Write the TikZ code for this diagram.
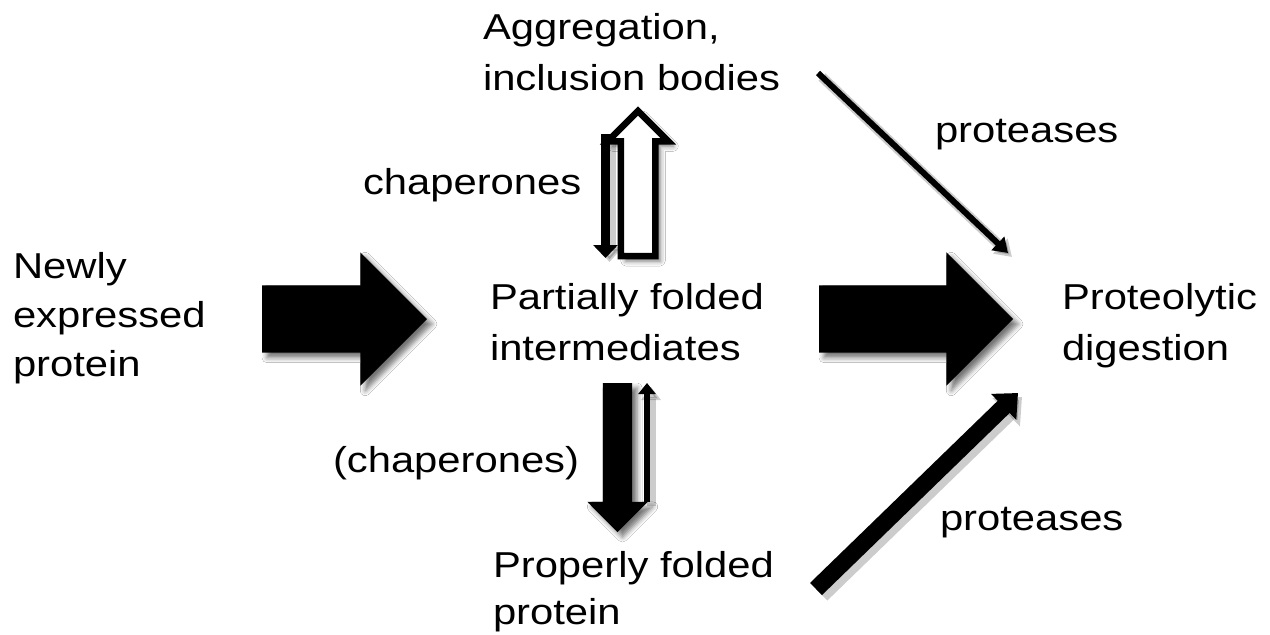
\documentclass[tikz,border=0pt]{standalone}
\usepackage{fontspec}
\setmainfont{Liberation Sans}
\usetikzlibrary{shapes.arrows,shadows.blur,arrows.meta}

% multi-line label: 36pt type, slightly widened, given line spacing
\newcommand\labeltext[2]{\scalebox{1.16}[1]{\fontsize{36pt}{#1pt}\selectfont\begin{tabular}[t]{@{}l@{}}#2\end{tabular}}}
% invisible strut that fixes the shaft thickness of a block arrow
\newcommand\shaft[1]{\rule{0pt}{#1}}

\begin{document}
\begin{tikzpicture}[x=1pt,y=-1pt,
  lbl/.style={inner sep=0pt, outer sep=0pt, anchor=base west},
  soft shadow/.style={blur shadow={shadow xshift=5pt, shadow yshift=-5pt,
      shadow blur radius=5pt, shadow opacity=55}},
  fat/.style={single arrow, fill=black, draw=none, inner sep=0pt, outer sep=0pt,
      anchor=tail, single arrow head extend=#1},
  thinarrow/.style n args={3}{line width=#1, -{Triangle[width=#2, length=#3]}},
  halo/.style={draw=black, opacity=0.2, transform canvas={shift={(4pt,-4pt)}}},
]
\fill[white] (0,0) rectangle (1270,635);
\useasboundingbox (0,0) rectangle (1270,635);

% ---- labels ----
\node[lbl] (newly)   at (13,278)   {\labeltext{49}{Newly\\expressed\\protein}};
\node[lbl] (aggr)    at (483,39)   {\labeltext{51}{Aggregation,\\inclusion bodies}};
\node[lbl] (chap1)   at (363,194)  {\labeltext{40}{chaperones}};
\node[lbl] (partial) at (490,309)  {\labeltext{51}{Partially folded\\intermediates}};
\node[lbl] (proteo)  at (1062,309) {\labeltext{51}{Proteolytic\\digestion}};
\node[lbl] (chap2)   at (333,472)  {\labeltext{40}{(chaperones)}};
\node[lbl] (proper)  at (493,577)  {\labeltext{47}{Properly folded\\protein}};
\node[lbl] (prot1)   at (935,142)  {\labeltext{40}{proteases}};
\node[lbl] (prot2)   at (940,530)  {\labeltext{40}{proteases}};

% ---- block arrows ----
\node[fat=33pt, minimum height=165pt, soft shadow] (arrL) at (262,319) {\shaft{67pt}};
\node[fat=33pt, minimum height=194pt, soft shadow] (arrR) at (819,319) {\shaft{67pt}};
\node[fat=13pt, fill=white, draw=black, line width=6.5pt,
      minimum height=145pt, rotate=90, soft shadow] (arrUp) at (638,256) {\shaft{28pt}};
\node[fat=15.5pt, minimum height=149pt, rotate=-90,
      soft shadow] (arrDown) at (617.5,383) {\shaft{29pt}};

% ---- thin arrows ----
\coordinate (dnS) at (605.5,134);  \coordinate (dnE) at (605.5,258);
\coordinate (upS) at (647,502);    \coordinate (upE) at (647,383);
\coordinate (p1S) at (818,73);     \coordinate (p1E) at (1008,253);
\coordinate (p2S) at (816,589);    \coordinate (p2E) at (1018,393);

\draw[halo, thinarrow={13pt}{26pt}{15pt}] (dnS) -- (dnE);
\draw[halo, thinarrow={9pt}{19pt}{13pt}]  (upS) -- (upE);
\draw[halo, thinarrow={10pt}{20pt}{16pt}] (p1S) -- (p1E);
\draw[halo, thinarrow={21pt}{38pt}{22pt}] (p2S) -- (p2E);

\draw[thinarrow={9pt}{24pt}{13pt}]  (dnS) -- (dnE);
\draw[thinarrow={6pt}{17pt}{11pt}]  (upS) -- (upE);
\draw[thinarrow={6pt}{18pt}{14pt}]  (p1S) -- (p1E);
\draw[thinarrow={17pt}{35pt}{20pt}] (p2S) -- (p2E);
\end{tikzpicture}
\end{document}
